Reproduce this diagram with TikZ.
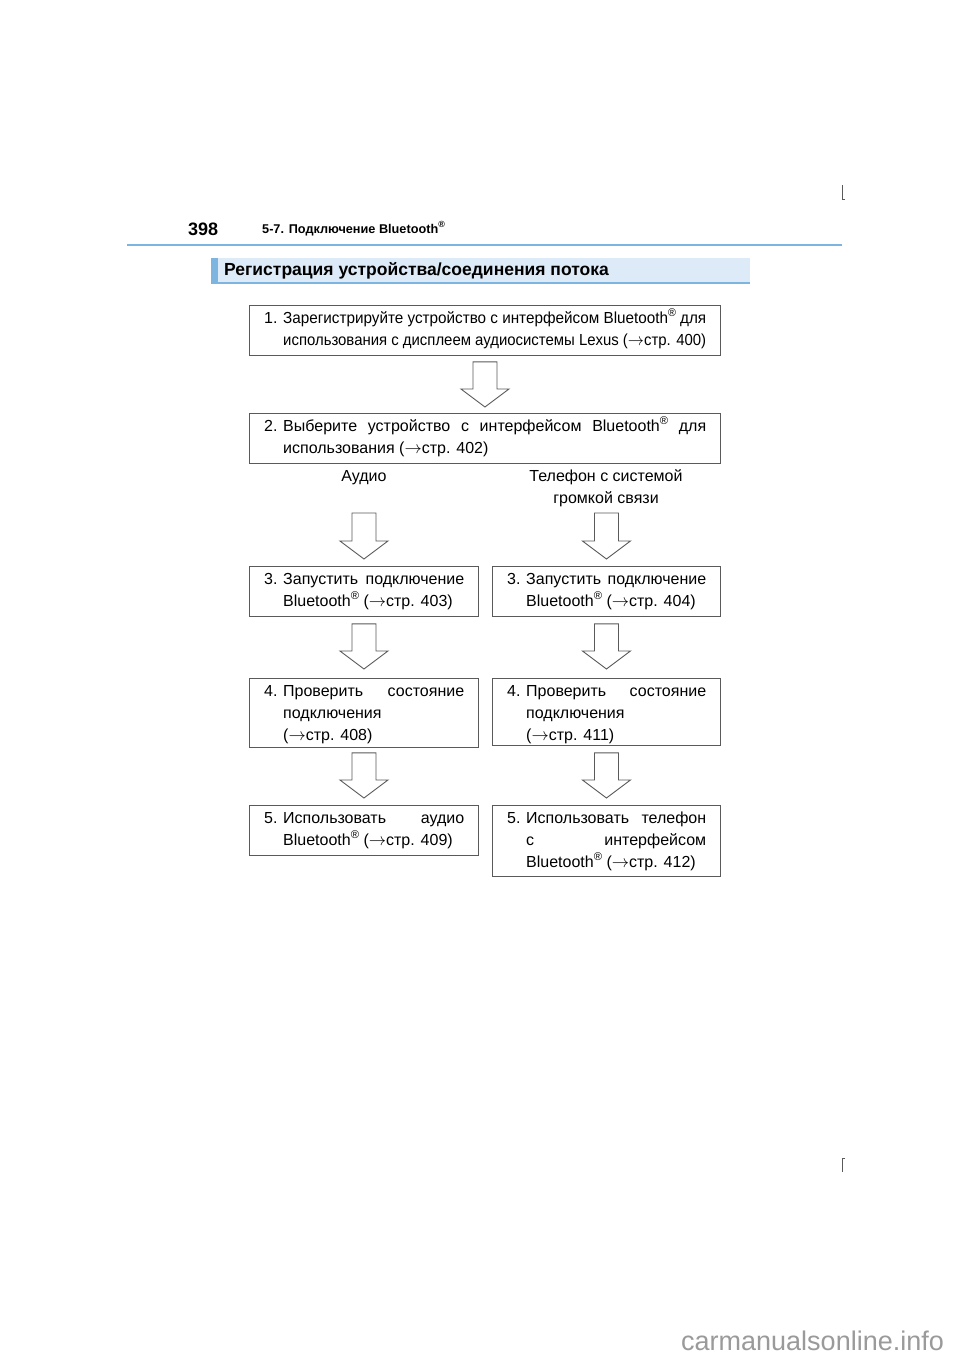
\documentclass[tikz,border=0pt]{standalone}
\usepackage{fontspec}
\usepackage{graphicx}
\setmainfont{Liberation Sans}
\usetikzlibrary{calc}
\definecolor{lineblue}{HTML}{7DB4E0}
\definecolor{barfill}{HTML}{DDEAF7}
\definecolor{boxgray}{HTML}{5A5A5A}
\definecolor{wmgray}{HTML}{9A9A9A}
\newcommand\bodyfont{\fontsize{16}{22}\selectfont}
\newcommand\arr{$\rightarrow$}
\newcommand\reg{\raisebox{0.42em}{\scalebox{0.7}{®}}}
\newsavebox\jlbox
\newcommand\jl[2]{\sbox\jlbox{#2}\ifdim\wd\jlbox>#1\relax\resizebox{#1}{\height}{\usebox\jlbox}\else\makebox[#1][s]{#2}\fi}
\newcommand\barrow[2]{\draw[blockarr] let \p1=(#1), \p2=(#2) in
  (\x2-12pt,\y1) -- (\x2+12pt,\y1) -- (\x2+12pt,\y2+18pt) -- (\x2+24pt,\y2+18pt)
  -- (\x2,\y2) -- (\x2-24pt,\y2+18pt) -- (\x2-12pt,\y2+18pt) -- cycle;}
\tikzset{
  box/.style={draw=boxgray, line width=0.9pt, inner sep=0pt, anchor=north west},
  txt/.style={inner sep=0pt, anchor=base west, font=\bodyfont},
  ctxt/.style={inner sep=0pt, anchor=base, font=\bodyfont},
  blockarr/.style={draw=boxgray, line width=0.9pt, fill=white, line join=miter},
}
\begin{document}
\begin{tikzpicture}[x=1pt,y=-1pt]
\useasboundingbox (0,0) rectangle (960,1358);
\fill[white] (0,0) rectangle (960,1358);

% corner marks
\draw[boxgray, line width=0.9pt] (845,199) -- (842,199) -- (842,185);
\draw[boxgray, line width=0.9pt] (845,1158) -- (842,1158) -- (842,1172);

% header
\node[inner sep=0pt, anchor=base west, font=\fontsize{18}{20}\selectfont\bfseries] (pg) at (188,235) {398};
\node[inner sep=0pt, anchor=base west, font=\fontsize{12.7}{14}\selectfont\bfseries] (sec) at (262,233) {5-7. Подключение Bluetooth\reg};
\draw[lineblue, line width=2pt] (127,245) -- (842,245);

% title bar
\fill[barfill] (211,258) rectangle (750,284);
\fill[lineblue] (211,258) rectangle (218,284);
\draw[lineblue, line width=1.8pt] (211,283.3) -- (750,283.3);
\node[inner sep=0pt, anchor=base west, font=\fontsize{17.5}{19}\selectfont\bfseries] (title) at (224,275) {Регистрация устройства/соединения потока};

% boxes
\node[box, minimum width=471pt, minimum height=50pt] (b1) at (249,305) {};
\node[box, minimum width=471pt, minimum height=50pt] (b2) at (249,413) {};
\node[box, minimum width=229pt, minimum height=50pt] (b3l) at (249,566) {};
\node[box, minimum width=228pt, minimum height=50pt] (b3r) at (492,566) {};
\node[box, minimum width=229pt, minimum height=69pt] (b4l) at (249,678) {};
\node[box, minimum width=228pt, minimum height=67pt] (b4r) at (492,678) {};
\node[box, minimum width=229pt, minimum height=50pt] (b5l) at (249,805) {};
\node[box, minimum width=228pt, minimum height=71pt] (b5r) at (492,805) {};

% box 1
\node[txt] (n1) at (264,323) {1.};
\node[txt] (t1a) at (283,323) {\jl{423pt}{Зарегистрируйте устройство с интерфейсом Bluetooth\reg{} для}};
\node[txt] (t1b) at (283,345) {\jl{423pt}{использования с дисплеем аудиосистемы Lexus (\arr стр. 400)}};
% box 2
\node[txt] (n2) at (264,431) {2.};
\node[txt] (t2a) at (283,431) {\jl{423pt}{Выберите устройство с интерфейсом Bluetooth\reg{} для}};
\node[txt] (t2b) at (283,453) {использования (\arr стр. 402)};
% branch labels
\node[ctxt] (la) at (364,481) {Аудио};
\node[ctxt] (lt1) at (606,481) {Телефон с системой};
\node[ctxt] (lt2) at (606,503) {громкой связи};
\coordinate (aud) at (363.5,513);
\coordinate (tel) at (606,513);
% box 3
\node[txt] (n3l) at (264,584) {3.};
\node[txt] (t3la) at (283,584) {\jl{181pt}{Запустить подключение}};
\node[txt] (t3lb) at (283,606) {Bluetooth\reg{} (\arr стр. 403)};
\node[txt] (n3r) at (507,584) {3.};
\node[txt] (t3ra) at (526,584) {\jl{180pt}{Запустить подключение}};
\node[txt] (t3rb) at (526,606) {Bluetooth\reg{} (\arr стр. 404)};
% box 4
\node[txt] (n4l) at (264,696) {4.};
\node[txt] (t4la) at (283,696) {\jl{181pt}{Проверить состояние}};
\node[txt] (t4lb) at (283,718) {подключения};
\node[txt] (t4lc) at (283,740) {(\arr стр. 408)};
\node[txt] (n4r) at (507,696) {4.};
\node[txt] (t4ra) at (526,696) {\jl{180pt}{Проверить состояние}};
\node[txt] (t4rb) at (526,718) {подключения};
\node[txt] (t4rc) at (526,740) {(\arr стр. 411)};
% box 5
\node[txt] (n5l) at (264,823) {5.};
\node[txt] (t5la) at (283,823) {\jl{181pt}{Использовать аудио}};
\node[txt] (t5lb) at (283,845) {Bluetooth\reg{} (\arr стр. 409)};
\node[txt] (n5r) at (507,823) {5.};
\node[txt] (t5ra) at (526,823) {\jl{180pt}{Использовать телефон}};
\node[txt] (t5rb) at (526,845) {\jl{180pt}{с интерфейсом}};
\node[txt] (t5rc) at (526,867) {Bluetooth\reg{} (\arr стр. 412)};

% block arrows
\barrow{$(b1.south)+(0,6)$}{$(b2.north)+(0,-6)$}
\barrow{aud}{$(b3l.north)+(0,-7)$}
\barrow{tel}{$(b3r.north)+(0,-7)$}
\barrow{$(b3l.south)+(0,7)$}{$(b4l.north)+(0,-9)$}
\barrow{$(b3r.south)+(0,7)$}{$(b4r.north)+(0,-9)$}
\barrow{$(b4l.south)+(0,5)$}{$(b5l.north)+(0,-7)$}
\barrow{$(b4r.south)+(0,7)$}{$(b5r.north)+(0,-7)$}

% watermark
\node[inner sep=0pt, anchor=base west, text=wmgray, font=\fontsize{27}{30}\selectfont] (wm) at (681,1350) {carmanualsonline.info};
\end{tikzpicture}
\end{document}
